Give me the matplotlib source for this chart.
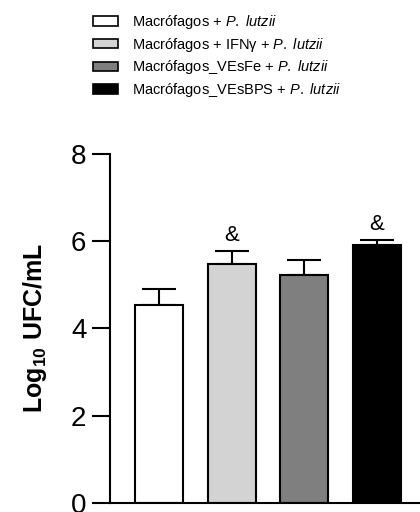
import matplotlib.pyplot as plt
from matplotlib.patches import Patch

plt.rcParams['font.family'] = ['Liberation Sans', 'DejaVu Sans']
plt.rcParams['mathtext.fontset'] = 'custom'
plt.rcParams['mathtext.rm'] = 'Liberation Sans'
plt.rcParams['mathtext.it'] = 'Liberation Sans:italic'
plt.rcParams['mathtext.bf'] = 'Liberation Sans:bold'

# Data
groups = [r'Macrófagos + $\mathit{P.\ lutzii}$',
          r'Macrófagos + IFNγ + $\mathit{P.\ lutzii}$',
          r'Macrófagos_VEsFe + $\mathit{P.\ lutzii}$',
          r'Macrófagos_VEsBPS + $\mathit{P.\ lutzii}$']
means = [4.53, 5.47, 5.22, 5.90]
errs = [0.36, 0.30, 0.34, 0.12]
marks = ['', '&', '', '&']
colors = ['white', '#d3d3d3', '#7f7f7f', 'black']

fig = plt.figure(figsize=(4.2, 5.12), dpi=100)
ax = fig.add_axes([0.262, 0.0176, 0.738, 0.6824])

x = range(len(means))
ax.bar(x, means, width=0.66, color=colors, edgecolor='black', linewidth=1.5, zorder=2)
ax.errorbar(x, means, yerr=[[0] * len(errs), errs], fmt='none', ecolor='black',
            elinewidth=1.5, capsize=12, capthick=1.5, zorder=1)

for i, (m, e, s) in enumerate(zip(means, errs, marks)):
    if s:
        ax.text(i, m + e + 0.12, s, ha='center', va='bottom', fontsize=16)

ax.set_xlim(-0.674, 3.59)
ax.set_ylim(0, 8)
ax.set_yticks([0, 2, 4, 6, 8])
ax.tick_params(axis='y', labelsize=20, length=13, width=1.5, direction='out', pad=4)
ax.set_xticks([])
for side in ['top', 'right']:
    ax.spines[side].set_visible(False)
for side in ['left', 'bottom']:
    ax.spines[side].set_linewidth(1.5)
ax.set_ylabel(r'Log$_{\mathbf{10}}$ UFC/mL', fontsize=18, fontweight='bold', labelpad=16)

handles = [Patch(facecolor=c, edgecolor='black', linewidth=1.2) for c in colors]
fig.legend(handles, groups, loc='upper left', bbox_to_anchor=(0.19, 1.0),
           frameon=False, fontsize=10.5, handlelength=1.7, handleheight=0.6,
           labelspacing=0.32, handletextpad=1.0)

plt.savefig('out.png', dpi=100)
plt.close()
